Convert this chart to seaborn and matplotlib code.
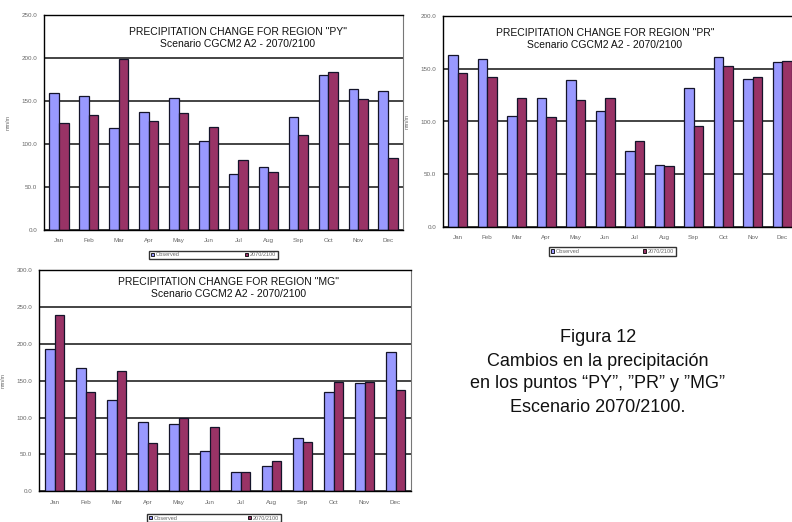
import numpy as np
import pandas as pd
import seaborn as sns
import matplotlib.pyplot as plt
from matplotlib.patches import Patch
from matplotlib.ticker import FixedLocator, FormatStrFormatter

months = ["Jan", "Feb", "Mar", "Apr", "May", "Jun",
          "Jul", "Aug", "Sep", "Oct", "Nov", "Dec"]
series_names = ["Observed", "2070/2100"]

py_obs = [159, 156, 118, 136.5, 153, 103, 65, 73, 131.5, 179.5, 163.5, 162]
py_fut = [124.5, 133, 199, 127, 135.5, 119.5, 80.5, 67, 110, 183, 152.5, 83]
pr_obs = [163, 159, 105.5, 122, 139, 110, 71.5, 59, 131.5, 161, 140.5, 156.5]
pr_fut = [146, 142.5, 122, 104.5, 120, 122, 81.5, 57.5, 96, 152.5, 142.5, 157.5]
mg_obs = [192.5, 167.5, 124, 93.5, 91, 55, 26, 34, 72, 135, 147, 189]
mg_fut = [239, 134.5, 163, 66, 99, 87.5, 26, 41.5, 67.5, 148.5, 148, 138]

W, H = 792, 522
OBS_C = "#9999FF"
FUT_C = "#993366"

sns.set_theme(style="white")
plt.rcParams["font.family"] = ["Liberation Sans", "DejaVu Sans"]

fig = plt.figure(figsize=(W / 100, H / 100), dpi=100)
fig.patch.set_facecolor("white")


def px_box(left, right, top, bottom):
    return [left / W, 1 - bottom / H, (right - left) / W, (bottom - top) / H]


def panel(rect, obs, fut, ymax, region, title_xy, legend_box):
    ax = fig.add_axes(rect)
    df = pd.DataFrame({
        "month": months * 2,
        "mm": obs + fut,
        "series": [series_names[0]] * 12 + [series_names[1]] * 12,
    })
    sns.barplot(data=df, x="month", y="mm", hue="series",
                palette=[OBS_C, FUT_C], saturation=1, width=0.64,
                edgecolor="#14142a", linewidth=0.9, legend=False, ax=ax)
    ax.set_xlim(-0.5, 11.5)
    ax.set_ylim(0, ymax)
    ax.yaxis.set_major_locator(FixedLocator(np.arange(0, ymax + 1, 50)))
    ax.yaxis.set_major_formatter(FormatStrFormatter("%.1f"))
    ax.yaxis.grid(True, color="#111111", lw=1.1)
    ax.set_axisbelow(True)
    ax.xaxis.set_minor_locator(FixedLocator(np.arange(-0.5, 12, 1)))
    ax.tick_params(axis="x", which="major", length=0, labelsize=4.5,
                   labelcolor="#666666", pad=6)
    ax.tick_params(axis="x", which="minor", length=3, width=0.8,
                   color="black", direction="out")
    ax.tick_params(axis="y", length=3, width=0.8, color="black",
                   direction="out", labelsize=4.5, labelcolor="#666666", pad=2)
    for s in ["left", "bottom", "top"]:
        ax.spines[s].set_visible(True)
        ax.spines[s].set_color("black")
        ax.spines[s].set_linewidth(1.0)
    ax.spines["right"].set_visible(True)
    ax.spines["right"].set_color("#777777")
    ax.spines["right"].set_linewidth(0.8)
    ax.set_xlabel("")
    ax.set_ylabel("mm/m", fontsize=4, color="#666666", labelpad=8)

    tx, ty = title_xy
    fig.text(tx / W, 1 - ty / H, f'PRECIPITATION CHANGE FOR REGION "{region}"',
             ha="center", va="center", fontsize=7.5, color="#111111")
    fig.text(tx / W, 1 - (ty + 12) / H, "Scenario CGCM2 A2 - 2070/2100",
             ha="center", va="center", fontsize=7.5, color="#111111")

    handles = [Patch(facecolor=OBS_C, edgecolor="black", lw=0.6),
               Patch(facecolor=FUT_C, edgecolor="black", lw=0.6)]
    lx0, lx1, ly0, ly1 = legend_box
    leg = fig.legend(handles, series_names, ncol=2, loc="center",
                     bbox_to_anchor=(lx0 / W, 1 - ly1 / H, (lx1 - lx0) / W, (ly1 - ly0) / H),
                     mode="expand", fontsize=4, frameon=True, fancybox=False,
                     handlelength=0.6, handleheight=0.6, handletextpad=0.3,
                     borderpad=0.3, borderaxespad=0)
    leg.get_frame().set_edgecolor("black")
    leg.get_frame().set_linewidth(1.0)
    for t in leg.get_texts():
        t.set_color("#666666")
    return ax


panel(px_box(44, 403, 15, 229.5), py_obs, py_fut, 250, "PY",
      (238, 32), (149, 278, 250, 260))
panel(px_box(443, 797, 16.3, 226.7), pr_obs, pr_fut, 200, "PR",
      (605, 33), (549, 676, 247, 256))
panel(px_box(39, 411, 270, 491.3), mg_obs, mg_fut, 300, "MG",
      (229, 282), (147, 281, 512, 524))

caption = ["Figura 12",
           "Cambios en la precipitación",
           "en los puntos \u201cPY\u201d, \u201dPR\u201d y \u201dMG\u201d",
           "Escenario 2070/2100."]
for i, line in enumerate(caption):
    fig.text(598 / W, 1 - (338 + 23 * i) / H, line, ha="center", va="center",
             fontsize=13, color="#111111")

fig.savefig("out.png", dpi=100)
